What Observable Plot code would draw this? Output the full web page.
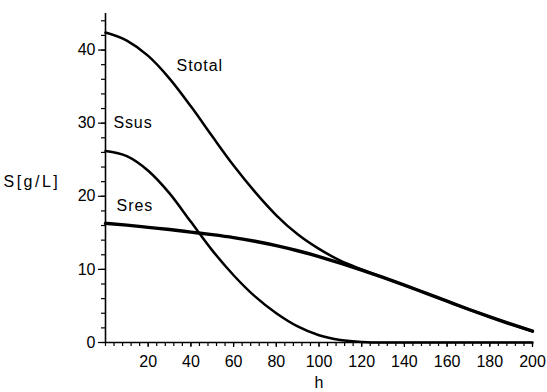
<!DOCTYPE html>
<html><head><meta charset="utf-8">
<script src="https://cdn.jsdelivr.net/npm/d3@7"></script>
<script src="https://cdn.jsdelivr.net/npm/@observablehq/plot@0.6"></script>
<style>body{margin:0;background:#fff}</style>
</head><body><div id="chart"></div>
<script>
const hours  = [0,10,20,30,40,50,60,70,80,90,100,110,120,130,140,150,160,170,180,190,200];
const sTotal = [42.4,41.3,39.2,36.1,32.3,28.2,24.2,20.6,17.4,14.8,12.8,11.2,10.0,8.9,7.85,6.75,5.65,4.55,3.5,2.5,1.55];
const sSus   = [26.2,25.5,23.5,20.4,16.5,12.6,9.2,6.3,4.0,2.2,1.0,0.35,0.08,0,0,0,0,0,0,0,0];
const sRes   = [16.3,16.05,15.75,15.45,15.1,14.75,14.35,13.85,13.25,12.55,11.75,10.85,9.9,8.9,7.85,6.75,5.65,4.55,3.5,2.5,1.55];
const xTickValues = [20,40,60,80,100,120,140,160,180,200];
const yTickValues = [0,10,20,30,40];
const curveNames  = ["Stotal","Ssus","Sres"];
const labelH = [33.3, 3.7, 5.2];
const labelS = [37.9, 30.0, 18.7];
const xTitle = "h";
const yTitle = "S[g/L]";

const rows = [];
hours.forEach((h, i) => {
  rows.push({h, s: sTotal[i], series: "Stotal"});
  rows.push({h, s: sSus[i], series: "Ssus"});
  rows.push({h, s: sRes[i], series: "Sres"});
});
const labels = curveNames.map((n, i) => ({name: n, h: labelH[i], s: labelS[i]}));

const chart = Plot.plot({
  width: 547,
  height: 392,
  marginLeft: 105,
  marginRight: 15,
  marginTop: 13,
  marginBottom: 50,
  x: {domain: [0, 200], label: null},
  y: {domain: [0, 45], label: null},
  style: {fontFamily: "'Liberation Sans', Arial, sans-serif", fontSize: "16px", background: "#fff", color: "#000"},
  marks: [
    Plot.axisX({ticks: d3.range(0, 201, 4), tickSize: 4, tickFormat: () => "", strokeWidth: 1.2, label: null}),
    Plot.axisX({ticks: xTickValues, tickSize: 5, tickPadding: 8, fontSize: 16, strokeWidth: 1.2, label: null}),
    Plot.axisY({ticks: d3.range(0, 45, 2), tickSize: 4, tickFormat: () => "", strokeWidth: 1.2, label: null}),
    Plot.axisY({ticks: yTickValues, tickSize: 7, tickPadding: 3, fontSize: 16, strokeWidth: 1.2, label: null}),
    Plot.ruleY([0], {x1: 0, x2: 200, strokeWidth: 1.6}),
    Plot.ruleX([0], {y1: 0, y2: 45, strokeWidth: 1.6}),
    Plot.line(rows.filter(d => d.series !== "Sres"), {x: "h", y: "s", z: "series", stroke: "#000", strokeWidth: 2.5, curve: "monotone-x"}),
    Plot.line(rows.filter(d => d.series === "Sres"), {x: "h", y: "s", stroke: "#000", strokeWidth: 3.4, curve: "monotone-x"}),
    Plot.text(labels, {x: "h", y: "s", text: "name", textAnchor: "start", fontSize: 16, fill: "#000"}),
    Plot.text([yTitle], {frameAnchor: "left", dx: -102, dy: 4, textAnchor: "start", fontSize: 16, fill: "#000"}),
    Plot.text([xTitle], {frameAnchor: "bottom", dy: 45, fontSize: 16, fill: "#000"})
  ]
});
d3.select(chart).selectAll("text").each(function() {
  const t = this.textContent;
  if (t === yTitle) this.setAttribute("letter-spacing", "2.5px");
  else if (curveNames.includes(t)) this.setAttribute("letter-spacing", "0.9px");
});
document.getElementById("chart").appendChild(chart);
</script>
</body></html>
